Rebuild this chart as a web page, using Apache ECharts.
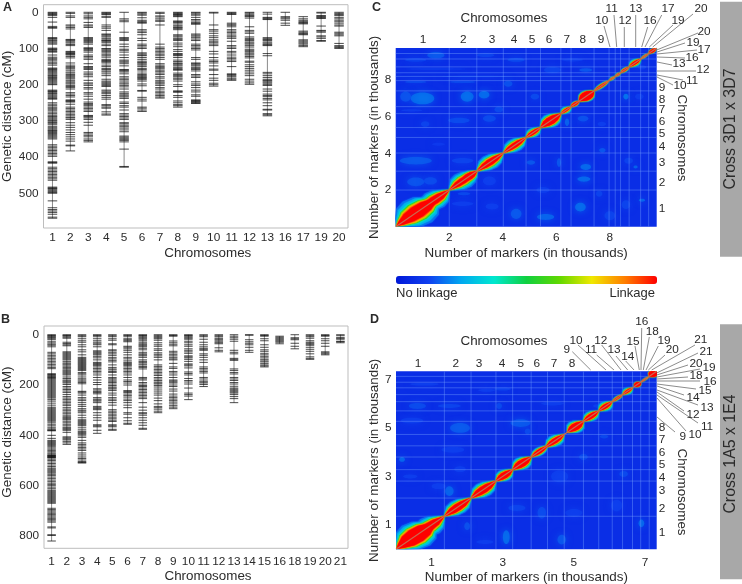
<!DOCTYPE html>
<html><head><meta charset="utf-8"><title>Genetic maps and linkage</title>
<style>html,body{margin:0;padding:0;background:#fff}#c{width:742px;height:584px}</style>
<script src="https://cdn.jsdelivr.net/npm/echarts@6/dist/echarts.min.js"></script></head>
<body><div id="c"></div>
<script>
const chromosomesA=['1','2','3','4','5','6','7','8','9','10','11','12','13','16','17','19','20'];
const chromosomesB=['1','2','3','4','5','6','7','8','9','10','11','12','13','14','15','16','18','19','20','21'];
const distanceTicksA=[0,100,200,300,400,500];
const distanceTicksB=[0,200,400,600,800];
const markerTicksC=[2,4,6,8];
const markerTicksD=[1,3,5,7];

const markersA=[
[0,2,4,6,9,14,27,39,42,44,70,72,74,77,79,82,85,88,99,101,103,105,108,110,118,124,127,130,134,138,142,146,154,156,158,161,164,167,170,173,175,178,180,183,186,189,192,195,198,200,215,217,219,221,224,226,229,232,235,238,240,250,254,258,262,265,268,272,276,280,284,287,289,292,295,298,300,303,305,308,311,316,319,322,325,327,329,332,335,338,341,344,347,350,366,370,374,378,382,386,390,394,398,413,415,417,428,432,436,440,444,448,452,456,460,464,483,485,487,489,492,495,498,500,521,540,545,549,553,558,566,569],
[0,3,10,14,35,38,42,46,75,77,79,82,85,89,92,108,110,112,114,116,118,122,126,140,146,150,153,156,160,165,168,172,175,178,181,184,188,192,195,198,202,205,208,212,222,226,230,234,242,244,246,248,254,262,266,270,274,278,282,286,290,292,296,305,312,318,325,332,338,344,350,356,367,369,383],
[0,4,10,14,18,28,35,38,42,70,72,75,78,81,84,88,98,100,103,106,110,118,122,126,130,142,150,152,155,158,165,170,173,178,188,195,198,202,208,212,222,226,232,240,248,252,255,258,262,266,270,274,285,287,289,292,296,304,312,332,336,340,344,350,354,358],
[0,2,4,6,11,14,35,40,44,50,60,62,65,68,72,76,78,80,83,88,92,100,102,105,108,112,116,120,124,130,133,135,137,140,146,150,155,158,162,165,170,175,185,190,193,196,199,202,205,215,218,222,225,230,235,240,255,258,262,265,275,281,284],
[0,18,22,26,55,70,72,75,78,88,95,102,105,110,118,125,132,135,138,142,148,158,160,162,165,170,178,182,186,190,195,198,202,206,212,220,224,228,231,234,238,248,252,258,262,270,280,284,288,292,296,305,308,312,316,320,325,330,342,345,348,351,354,358,378,426,428],
[0,2,5,8,15,22,25,28,30,48,52,56,62,72,78,88,92,96,100,112,115,118,120,125,130,135,138,140,143,146,150,155,158,162,168,172,175,178,180,183,186,190,198,203,216,218,235,240,245,262,265,270,274],
[0,3,10,13,18,22,25,35,88,96,100,104,108,112,116,120,125,130,142,146,150,153,156,160,164,168,172,178,182,188,192,195,198,202,208,212,218,222,226,230,234,237],
[0,2,4,6,8,10,12,24,26,28,32,36,40,42,45,48,62,65,68,72,75,78,85,90,95,103,108,114,116,118,120,125,132,136,140,142,145,148,152,155,158,160,168,172,175,178,182,185,190,200,205,217,219,221,230,235,245,250,255,258,262],
[0,2,5,8,14,20,24,28,31,33,60,63,66,70,74,78,88,92,96,100,104,125,130,140,142,145,148,152,155,158,162,172,176,180,192,198,202,208,215,220,228,232,242,244,246,248,250,252],
[0,2,35,48,52,58,65,70,76,80,84,88,92,108,115,125,132,136,140,148,157,160,172,182,188,196,200,204],
[0,2,4,6,30,33,36,40,48,52,56,60,65,68,72,80,92,96,100,108,112,118,124,128,132,136,150,170,172,175,178,182,185,188],
[0,2,5,8,10,12,16,40,50,54,58,68,72,75,78,82,85,88,92,96,102,105,108,112,115,118,122,126,135,138,145,150,155,160,165,170,175,185,190,195,199],
[0,5,14,16,18,20,70,73,75,78,82,85,88,90,92,114,120,166,170,175,180,185,188,190,193,196,200,202,212,218,226,230,233,238,242,250,258,268,270,280,283,286],
[0,12,15,18,22,30,36],
[12,18,22,25,28,30,32,52,55,58,60,62,76,79,82,85,88,92,95],
[0,2,9,11,13,15,17,38,50,52,55,65,68,72,78,80],
[0,3,6,9,14,18,22,26,30,35,38,55,58,62,65,86,92,95,97,100]];

const markersB=[
[0,3,6,9,12,16,20,28,33,38,42,48,70,76,82,88,94,100,106,112,118,124,130,135,155,158,161,164,167,170,173,176,180,184,188,192,196,200,204,208,212,216,220,224,228,232,236,240,244,248,252,258,264,272,280,288,292,296,300,304,308,312,316,320,324,328,332,336,340,344,350,356,362,368,374,378,380,382,400,412,420,424,428,432,436,440,445,450,455,460,465,470,474,478,480,482,484,486,488,490,495,500,506,512,518,524,530,534,538,542,546,550,555,560,566,572,578,584,590,595,600,606,612,618,622,626,630,634,638,642,646,650,654,658,662,666,670,690,695,700,705,710,715,720,725,730,735,740,745,764,768,795,798,820],
[0,3,6,10,14,30,35,40,44,68,72,76,80,84,88,92,96,100,106,112,116,120,125,130,135,140,144,148,152,156,160,168,174,180,184,188,192,198,206,212,218,224,230,238,246,252,258,264,270,276,282,290,296,302,308,314,320,326,330,334,338,344,350,356,362,368,372,376,380,388,406,410,414,418,424,430,436],
[0,4,8,16,24,30,40,48,60,68,80,90,94,98,102,106,110,114,118,122,126,130,134,138,142,150,155,160,168,175,180,185,190,195,225,228,232,240,250,256,262,270,278,285,294,300,304,310,320,330,338,342,346,350,354,358,362,370,378,384,388,392,396,402,408,420,430,436,442,448,454,460,470,478,486,492,498,504,508,510],
[0,3,8,16,24,30,36,40,48,64,68,72,76,80,86,92,100,110,114,118,122,128,134,140,146,152,160,170,180,190,198,215,220,226,230,235,250,256,260,264,270,285,290,294,298,310,320,330,340,358,362,366,380,392],
[0,4,8,16,22,36,40,60,64,70,76,82,90,96,102,108,120,130,136,140,146,150,160,170,175,180,185,190,196,202,208,212,216,222,232,240,250,256,262,270,280,298,304,310,316,322,328,334,340,345,358,362,366,376,380],
[0,3,8,16,20,24,28,46,50,56,62,70,80,90,96,104,110,114,118,122,128,134,140,146,152,160,170,180,186,192,200,222,226,230,236,242,248,256,262,270,280,290,310,316,330,342,352,356],
[0,3,6,10,14,18,24,30,36,40,44,48,54,60,70,76,80,84,90,100,106,110,116,120,126,130,136,170,175,180,190,196,202,206,212,218,224,230,236,242,248,254,270,288,300,310,314,320,330,340,350,360,372,376],
[0,4,8,12,16,22,32,40,46,56,62,72,78,84,90,100,120,126,132,138,144,150,156,162,170,176,182,188,192,196,202,208,216,224,232,240,252,262,275,285,290,296,304,310],
[0,3,6,25,32,38,44,66,72,78,84,90,96,100,114,128,134,146,152,160,170,180,184,188,192,200,206,216,224,236,244,250,256,262,268,275,282,288,294],
[0,3,6,10,14,18,26,32,40,46,56,62,68,74,84,88,92,98,106,116,120,124,132,148,154,160,174,182,188,196,212,232,238,244,258],
[0,4,8,18,30,40,48,54,58,62,76,82,90,100,110,128,134,140,146,152,170,176,184,188,192,198,206],
[0,4,8,14,18,22,28,32,36,52,62,68],
[0,6,12,18,26,62,70,76,94,98,102,136,142,150,156,170,176,182,190,196,205,212,216,220,224,228,232,238,246,254,270],
[0,2,20,28,34,40,50,62,70],
[0,3,6,16,24,40,50,60,66,74,80,86,92,98,104,108,114,120,124,128],
[6,10,14,18,22,26,30,36],
[0,12,16,20,34,46,56],
[0,4,8,14,24,30,34,38,42,50,58,66,76,88,94,98],
[0,3,6,16,24,34,46,68,72,76,80],
[0,4,12,14,18,26,28,32]];

/* linkage along the diagonal: start, end, outer half-width, core half-width (thousands of markers) */
const lobesC=[[.02,1.6,.52,.22],[.9,2,.34,.13],[2,3.03,.3,.1],[2.45,3.03,.22,.11],[3.03,4.02,.26,.1],[4.02,4.87,.23,.08],[4.87,5.41,.17,.06],[5.41,6.17,.25,.13],[6.17,6.55,.13,.04],[6.55,6.85,.08,.05],[6.85,7.41,.21,.15],[7.41,7.97,.08,.03],[7.97,8.2,.05,.015],[8.2,8.4,.05,.02],[8.4,8.72,.07,.03],[8.72,9.15,.14,.05],[9.15,9.45,.04,.015],[9.45,9.73,.07,.05]];
const lobesD=[[.01,1.12,.38,.2],[.55,1.36,.26,.1],[1.36,2.11,.2,.09],[2.11,2.81,.2,.09],[2.81,3.28,.16,.08],[3.28,3.8,.18,.09],[3.8,4.26,.11,.05],[4.21,4.73,.16,.06],[4.82,5.27,.18,.09],[5.27,5.7,.14,.06],[5.7,6.08,.14,.05],[6.08,6.37,.05,.02],[6.37,6.65,.1,.03],[6.7,6.88,.07,.06],[6.88,7.12,.02,.01],[7.12,7.33,.1,.09]];
const boundsC=[2,3.03,4.02,4.87,5.41,6.17,6.55,7.41,7.97,8.2,8.4,8.72,9.15,9.45];
const boundsD=[1.36,2.11,2.81,3.28,3.8,4.26,4.73,5.27,5.7,6.08,6.37,6.65,6.88,7.12];
/* off-diagonal linkage patches: x, y, x radius, y radius, level */
const patchesC=[[1,7,.55,.4,.2],[.37,7.1,.25,.35,.16],[2.67,7.1,.3,.35,.2],[3.3,7.2,.25,.25,.2],[4.2,7.8,.2,.2,.16],[1.5,9.36,.4,.22,.17],[.75,9.1,.5,.12,.14],[3.36,9.36,.4,.13,.14],[4.5,9.1,.4,.13,.15],[2.5,7.9,.6,.08,.15],[.75,7.9,.5,.08,.15],[3.85,6.4,.2,.2,.15],[.6,6.35,.5,.08,.13],[2.36,5.8,.5,.18,.15],[3.5,5.9,.3,.22,.15],[1.1,5.6,.2,.2,.14],[1.5,8.6,1.4,.05,.13],[3,8.2,1.6,.05,.13],[.75,3.6,.75,.25,.17],[.75,2.45,.4,.3,.16],[1.3,2.5,.3,.25,.15],[2.5,3.6,.5,.18,.14],[2.55,1.8,.3,.1,.15],[3.5,2.5,.3,.3,.13],[4.5,.7,.25,.35,.17],[3.6,1.1,.3,.2,.13],[2.5,1.25,.5,.15,.13],[1.6,4.5,.3,.1,.12],[7.1,3.26,.25,.2,.2],[7.03,2.6,.3,.18,.2],[6.9,1.07,.25,.3,.2],[5.6,.53,.4,.2,.19],[7.72,4.17,.15,.15,.17],[5.05,3.5,.2,.15,.17],[6.1,3.5,.1,.3,.17],[8.96,3.26,.1,.1,.2],[9.2,1.44,.15,.1,.2],[8.7,3.6,.2,.2,.14],[7.6,1.8,.15,.2,.14],[8.6,1.2,.2,.3,.14],[7.1,8.55,.3,.12,.17],[8.6,7.1,.12,.2,.22],[5.2,7.1,.2,.2,.15],[5.86,8.55,.4,.2,.14],[6.4,5.7,.1,.25,.19],[7,5.9,.25,.2,.16],[7.7,5.6,.2,.15,.13],[9.2,8.7,.2,.15,.13],[9.1,7.1,.2,.2,.13],[6.6,9.1,.5,.1,.13],[5.5,2,.3,.2,.13],[8,.6,.25,.3,.14]];
const patchesD=[[.6,5.9,.3,.15,.15],[.45,5.3,.4,.15,.13],[1.5,5.9,.4,.1,.14],[1.8,5,.35,.25,.17],[2.9,5.9,.1,.15,.15],[3.5,5.2,.35,.2,.17],[3.7,4.85,.1,.15,.15],[2.55,6.55,.3,.08,.13],[3,6.6,.3,.08,.14],[1.6,4.1,.4,.15,.13],[1.5,2.4,.15,.25,.19],[.17,3.7,.1,.12,.2],[.4,3,.25,.1,.13],[1.8,3.3,.2,.15,.13],[4.4,6,.4,.1,.13],[3.1,.5,.12,.35,.2],[2,.95,.1,.2,.16],[4.66,.4,.15,.25,.17],[3.4,1.7,.3,.15,.14],[4.1,1.5,.15,.3,.15],[6.4,3.1,.15,.15,.15],[6.9,1.07,.1,.2,.2],[4.6,3,.3,.3,.13],[5.27,3.8,.15,.15,.15],[5.85,4.64,.15,.1,.15],[5,1.5,.3,.2,.13],[5.7,5.9,.2,.1,.13],[2.5,.3,.3,.1,.13],[6.2,1.8,.2,.3,.13],[.8,6.8,.5,.07,.13],[1.2,2.6,.25,.15,.13]];

const DEEP=['#0018d8','#1040f0','#00a8f0','#00e8d0','#10d040','#60d800','#f0e800','#ff8000','#ff0000'];
const INK='#2b2b2b', FONT='"Liberation Sans",Arial,sans-serif';
const PROFILE=[[0,0],[.12,.4],[.3,.86],[.5,1],[.7,.86],[.88,.4],[1,0]];
const SHELLS=[[1.12,.18],[.85,.27],[.58,.36],[.42,.5],[.33,.66],[.22,.8],[.1,.9],[0,1]];

function lensData(lobes){const out=[];SHELLS.forEach(([f,v])=>lobes.forEach(([s,e,d,r])=>out.push([s,e,r+(d-r)*f,0,v])));return out;}
function markerData(list){const out=[];list.forEach((m,i)=>m.forEach(v=>out.push([i,v])));return out;}
function spanData(list){return list.map((m,i)=>[i,m[0],m[m.length-1]]);}

const renderSpan=(p,api)=>{const a=api.coord([api.value(0),api.value(1)]),b=api.coord([api.value(0),api.value(2)]);
 return{type:'line',shape:{x1:a[0],y1:a[1],x2:b[0],y2:b[1]},style:{stroke:'#8a8a8a',lineWidth:1}};};
const renderPatch=(p,api)=>{const c=api.coord([api.value(0),api.value(1)]),s=api.size([api.value(2),api.value(3)]),col=api.visual('color');
 return{type:'ellipse',shape:{cx:c[0],cy:c[1],rx:s[0]*.8,ry:s[1]*.8},style:{fill:col,opacity:.65,shadowBlur:7,shadowColor:col}};};
const renderLens=(p,api)=>{const s=api.value(0),e=api.value(1),d=api.value(2),col=api.visual('color'),up=[],dn=[];
 PROFILE.forEach(([t,w])=>{const c=s+(e-s)*t;up.push(api.coord([c-d*w,c+d*w]));dn.unshift(api.coord([c+d*w,c-d*w]));});
 return{type:'polygon',shape:{points:up.concat(dn)},style:{fill:col,shadowBlur:1.5,shadowColor:col}};};
const boundsRender=mx=>(p,api)=>{const b=api.value(0),v0=api.coord([b,0]),v1=api.coord([b,mx]),h0=api.coord([0,b]),h1=api.coord([mx,b]);
 const st={stroke:'rgba(120,165,255,.5)',lineWidth:.8};
 return{type:'group',children:[{type:'line',shape:{x1:v0[0],y1:v0[1],x2:v1[0],y2:v1[1]},style:st},{type:'line',shape:{x1:h0[0],y1:h0[1],x2:h1[0],y2:h1[1]},style:st}]};};

const grids=[
 {left:43.5,top:4.7,width:304.5,height:223.3,show:true,borderColor:'#bdbdbd',borderWidth:1,backgroundColor:'#fff',outerBoundsMode:'none'},
 {left:44,top:326,width:304,height:222.3,show:true,borderColor:'#bdbdbd',borderWidth:1,backgroundColor:'#fff',outerBoundsMode:'none'},
 {left:395.7,top:48,width:261,height:178.7,show:true,borderWidth:0,backgroundColor:'#0a2ee6',outerBoundsMode:'none'},
 {left:396,top:371.3,width:260.7,height:178,show:true,borderWidth:0,backgroundColor:'#0a2ee6',outerBoundsMode:'none'}];
const nameStyle={fontFamily:FONT,fontSize:13.4,color:INK};
const labelStyle={fontFamily:FONT,fontSize:11.8,color:INK};
function catAxis(i,cats,gap,margin){return{gridIndex:i,type:'category',data:cats,name:'Chromosomes',nameLocation:'middle',nameGap:gap,nameTextStyle:{...nameStyle,padding:[0,0,0,24]},
 axisLine:{show:false},axisTick:{alignWithLabel:true,length:3,lineStyle:{color:'#bdbdbd'}},axisLabel:{...labelStyle,margin,interval:0}};}
function distAxis(i,min,max,ticks,pad){return{gridIndex:i,type:'value',inverse:true,min,max,name:'Genetic distance (cM)',nameLocation:'middle',nameGap:29.5,nameRotate:90,nameTextStyle:{...nameStyle,fontSize:13.5,padding:[0,0,0,pad]},
 axisLine:{show:false},axisTick:{show:false,customValues:ticks},splitLine:{show:false},axisLabel:{...labelStyle,margin:5,customValues:ticks}};}
function mrkAxis(i,max,ticks,isX,gap,margin){const a={gridIndex:i,type:'value',min:0,max,name:'Number of markers (in thousands)',nameLocation:'middle',nameGap:gap,nameTextStyle:nameStyle,
 axisLine:{show:false},axisTick:{show:false,customValues:ticks},splitLine:{show:false},axisLabel:{...labelStyle,margin,customValues:ticks}};
 if(!isX)a.nameRotate=90;return a;}

const series=[];
function mapSeries(g,list,w){
 series.push({type:'custom',xAxisIndex:g,yAxisIndex:g,renderItem:renderSpan,encode:{x:0,y:1},data:spanData(list),silent:true,z:2});
 series.push({type:'scatter',xAxisIndex:g,yAxisIndex:g,symbol:'rect',symbolSize:[w,1.05],data:markerData(list),itemStyle:{color:'#000',opacity:.68},silent:true,z:3});
}
mapSeries(0,markersA,9.5);
mapSeries(1,markersB,8.5);
const heatIdx=[];
function heatSeries(g,mx,patches,bounds,lobes){
 heatIdx.push(series.length);
 series.push({type:'custom',xAxisIndex:g,yAxisIndex:g,renderItem:renderPatch,encode:{x:0,y:1},data:patches,clip:true,silent:true,z:2});
 series.push({type:'custom',xAxisIndex:g,yAxisIndex:g,renderItem:boundsRender(mx),encode:{x:0},data:bounds.map(b=>[b]),clip:true,silent:true,z:3});
 series.push({type:'line',xAxisIndex:g,yAxisIndex:g,data:[[0,0],[mx,mx]],symbol:'none',lineStyle:{color:'#c86a50',width:1.1},silent:true,z:6});
 heatIdx.push(series.length);
 series.push({type:'custom',xAxisIndex:g,yAxisIndex:g,renderItem:renderLens,encode:{x:0,y:1},data:lensData(lobes),clip:true,silent:true,z:5});
}
heatSeries(2,9.75,patchesC,boundsC,lobesC);
heatSeries(3,7.33,patchesD,boundsD,lobesD);

/* annotations */
const g=[];
function txt(t,x,y,o={}){g.push({type:'text',silent:true,x,y,rotation:o.rot||0,z:10,style:{text:t,fontFamily:FONT,fontSize:o.size||11.8,fontWeight:o.bold?'bold':'normal',fill:INK,align:o.align||'center',verticalAlign:'middle'}});}
function leader(t,x,y,x1,y1,x2,y2){txt(t,x,y);g.push({type:'line',silent:true,z:9,shape:{x1,y1,x2,y2},style:{stroke:'#5a5a5a',lineWidth:.7}});}
[['A',3,8],['B',1,320],['C',372,8],['D',370,320]].forEach(([t,x,y])=>txt(t,x,y,{bold:true,size:12.5,align:'left'}));
g.push({type:'rect',silent:true,z:1,shape:{x:720,y:1.7,width:22,height:255},style:{fill:'#a8a8a8'}});
g.push({type:'rect',silent:true,z:1,shape:{x:720,y:324.3,width:22,height:255},style:{fill:'#a8a8a8'}});
txt('Cross 3D1 x 3D7',731,129,{rot:Math.PI/2,size:15.9});
txt('Cross 1A5 x 1E4',731,454,{rot:Math.PI/2,size:15.9});
txt('Chromosomes',504,18,{size:13.4});txt('Chromosomes',504,341,{size:13.4});
txt('Chromosomes',682,138,{rot:-Math.PI/2,size:13.4});txt('Chromosomes',682,492,{rot:-Math.PI/2,size:13.4});
txt('No linkage',396,293,{size:13,align:'left'});txt('Linkage',655,293,{size:13,align:'right'});
[['1',423],['2',463.3],['3',492],['4',514],['5',532],['6',549],['7',566.7],['8',582.7],['9',601]].forEach(([t,x])=>txt(t,x,40));
[['1',418],['2',455.7],['3',479],['4',502],['5',520.7],['6',536.7],['7',554],['8',572]].forEach(([t,x])=>txt(t,x,364));
[['9',88],['8',100],['7',110],['6',122],['5',134],['4',147],['3',163],['2',183],['1',209]].forEach(([t,y])=>txt(t,662,y));
[['8',428],['7',440],['6',452.7],['5',464.3],['4',477.3],['3',491],['2',508.3],['1',532.3]].forEach(([t,y])=>txt(t,662,y));
[['10',601.7,21,604,26,610,47],['11',611.7,9,614,15,616.7,47],['12',625,21,624.3,27,624.3,47],['13',635.7,9,635.7,15,635.7,47],['16',650,21,647.7,27,641.7,47],['17',668,9,661.7,15,645,47],['19',678,21,673,25,649.3,47],['20',701,9,693,14,652.7,47],
 ['20',704,32,698,33,656.7,50],['19',693,43,685,43,657,52],['17',704,50,697,50,657,54],['16',692,58,685,58,657,57],['13',679,64,672,65,657,62],['12',703,70,696,71,657,71],['11',692,81,683,80,657,75],['10',680,86,673,85,657,77],
 ['9',566.7,350,572.3,351.7,590.7,370],['10',576,340.7,578,345,606,370],['11',591,350,596.7,355,614,370],['12',600.7,340.7,601.7,345,621,370],['13',614,350,616,356,627.7,370],['14',627.7,356.7,625.7,361,634,370],['15',633,341.7,635,346,639.3,370],['16',641.7,322,641.7,328,641,370],['18',652.3,331.7,649.3,337,643.3,370],['19',664,340.7,658.3,346,646,370],['20',672.3,350,665,355,648.3,370],['21',700.7,340,695,345,651.7,370],
 ['21',706,351.7,698,353,656.7,373],['20',696,363.3,688,365,656.7,375],['19',709,367.7,700,369,657,377],['18',696,376,688,377,657,379],['16',710,381.7,700,381,657,381],['15',705,391,696,389,657,384],['14',693,397.7,684,395,657,386],['13',707,408,698,405,657,390],['12',693,415,684,411,657,392],['11',707,426.7,698,423,657,395],['10',695,435,686,431,657,398],['9',682.7,437,675,432,657,417]
].forEach(a=>leader(...a));

const chart=echarts.init(document.getElementById('c'),null,{renderer:'canvas'});
chart.setOption({animation:false,backgroundColor:'#fff',textStyle:{fontFamily:FONT},grid:grids,
 xAxis:[catAxis(0,chromosomesA,19,4),catAxis(1,chromosomesB,22,7),mrkAxis(2,9.75,markerTicksC,true,20,5),mrkAxis(3,7.33,markerTicksD,true,21.5,7)],
 yAxis:[distAxis(0,-21,596,distanceTicksA,0),distAxis(1,-34.6,849,distanceTicksB,10),mrkAxis(2,9.75,markerTicksC,false,14,4.5),mrkAxis(3,7.33,markerTicksD,false,14,4.5)],
 visualMap:[{type:'continuous',show:true,min:0,max:1,dimension:4,seriesIndex:heatIdx,orient:'horizontal',left:396,top:276,itemWidth:8,itemHeight:261,padding:0,calculable:false,hoverLink:false,text:null,showLabel:false,inRange:{color:DEEP},textStyle:{color:'transparent',fontSize:1}}],
 series,graphic:{elements:g}});
</script></body></html>
